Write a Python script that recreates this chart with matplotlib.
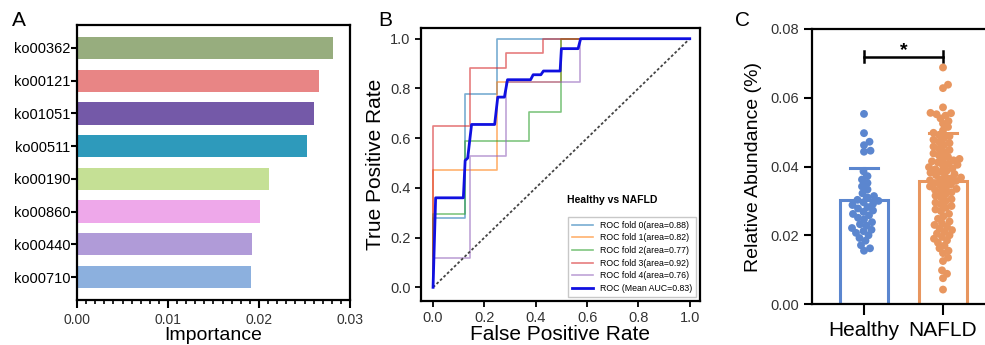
import matplotlib
matplotlib.use('Agg')
import matplotlib.pyplot as plt
import numpy as np
from matplotlib.ticker import MultipleLocator

plt.rcParams['font.family'] = ['Liberation Sans', 'DejaVu Sans']

# ---------------- data ----------------
# Panel A
pathways = ["ko00362", "ko00121", "ko01051", "ko00511", "ko00190", "ko00860", "ko00440", "ko00710"]
importance = [0.0281, 0.0266, 0.0260, 0.0253, 0.0211, 0.0201, 0.0192, 0.0191]
bar_colors = ["#97ad7e", "#e88585", "#7459a8", "#2e9abb", "#c5e095", "#eea8ea", "#b09bd8", "#8cb0de"]

# Panel B (ROC step curves)
fold0_fpr = [0, 0, 0.125, 0.125, 0.25, 0.25, 1.0]
fold0_tpr = [0, 0.278, 0.278, 0.778, 0.778, 1.0, 1.0]
fold1_fpr = [0, 0, 0.25, 0.25, 0.5, 0.5, 1.0]
fold1_tpr = [0, 0.471, 0.471, 0.824, 0.824, 1.0, 1.0]
fold2_fpr = [0, 0, 0.125, 0.125, 0.375, 0.375, 0.5, 0.5, 1.0]
fold2_tpr = [0, 0.294, 0.294, 0.588, 0.588, 0.706, 0.706, 1.0, 1.0]
fold3_fpr = [0, 0, 0.143, 0.143, 0.286, 0.286, 0.429, 0.429, 1.0]
fold3_tpr = [0, 0.647, 0.647, 0.882, 0.882, 0.941, 0.941, 1.0, 1.0]
fold4_fpr = [0, 0, 0.143, 0.143, 0.286, 0.286, 0.571, 0.571, 1.0]
fold4_tpr = [0, 0.118, 0.118, 0.529, 0.529, 0.824, 0.824, 1.0, 1.0]
mean_fpr = [0, 0.01, 0.118, 0.125, 0.135, 0.15, 0.24, 0.252, 0.278, 0.29, 0.38, 0.39, 0.42, 0.43, 0.495, 0.50, 0.565, 0.575, 1.0]
mean_tpr = [0, 0.36, 0.36, 0.51, 0.52, 0.655, 0.655, 0.765, 0.765, 0.835, 0.835, 0.855, 0.855, 0.87, 0.87, 0.96, 0.96, 1.0, 1.0]
fold_labels = ["ROC fold 0(area=0.88)", "ROC fold 1(area=0.82)", "ROC fold 2(area=0.77)",
               "ROC fold 3(area=0.92)", "ROC fold 4(area=0.76)"]
mean_label = "ROC (Mean AUC=0.83)"

# Panel C
groups = ["Healthy", "NAFLD"]
group_means = [0.0303, 0.0358]
group_err_top = [0.0397, 0.0497]
healthy_vals = [0.0553, 0.0497, 0.0472, 0.0462, 0.0446, 0.0443, 0.0386, 0.0372, 0.0362, 0.0352,
                0.0342, 0.0333, 0.0322, 0.0314, 0.0310, 0.0303, 0.0300, 0.0296, 0.0291, 0.0288,
                0.0282, 0.0278, 0.0272, 0.0268, 0.0262, 0.0258, 0.0251, 0.0246, 0.0238, 0.0232,
                0.0228, 0.0221, 0.0216, 0.0212, 0.0207, 0.0200, 0.0192, 0.0184, 0.0171, 0.0162, 0.0155]
nafld_vals = [0.0688, 0.0638, 0.0628, 0.0572, 0.0556, 0.0555, 0.0552, 0.0548, 0.0540, 0.0532,
              0.0525, 0.0515, 0.0505, 0.0498, 0.0492, 0.0488, 0.0482, 0.0478, 0.0472, 0.0468,
              0.0462, 0.0458, 0.0452, 0.0448, 0.0442, 0.0438, 0.0432, 0.0428, 0.0422, 0.0420,
              0.0418, 0.0415, 0.0412, 0.0408, 0.0405, 0.0402, 0.0398, 0.0395, 0.0392, 0.0388,
              0.0385, 0.0382, 0.0378, 0.0375, 0.0372, 0.0368, 0.0365, 0.0362, 0.0360, 0.0358,
              0.0355, 0.0352, 0.0348, 0.0345, 0.0342, 0.0338, 0.0335, 0.0332, 0.0328, 0.0325,
              0.0320, 0.0315, 0.0310, 0.0305, 0.0300, 0.0295, 0.0290, 0.0285, 0.0280, 0.0275,
              0.0270, 0.0262, 0.0255, 0.0248, 0.0240, 0.0235, 0.0230, 0.0225, 0.0220, 0.0215,
              0.0210, 0.0205, 0.0200, 0.0195, 0.0190, 0.0185, 0.0178, 0.0170, 0.0162, 0.0155,
              0.0148, 0.0135, 0.0125, 0.0098, 0.0088, 0.0075, 0.0042]
group_colors = ["#5b86cf", "#e8965f"]

# ---------------- figure ----------------
W, H = 985, 345
fig = plt.figure(figsize=(W / 100, H / 100), dpi=100)


def rect(l, t, r, b):
    return [l / W, 1 - b / H, (r - l) / W, (b - t) / H]


SPW = 1.6

# ---- Panel A ----
axA = fig.add_axes(rect(77, 25, 350, 300))
ypos = np.arange(len(pathways))
axA.barh(ypos, importance, height=0.68, color=bar_colors)
axA.set_ylim(len(pathways) - 0.3, -0.7)
axA.set_xlim(0, 0.03)
axA.set_yticks(ypos)
axA.set_yticklabels(pathways, fontsize=10.5)
axA.xaxis.set_major_locator(MultipleLocator(0.01))
axA.xaxis.set_minor_locator(MultipleLocator(0.001))
axA.xaxis.set_major_formatter(plt.FuncFormatter(lambda v, p: f"{v:.2f}"))
axA.tick_params(axis='x', which='major', length=6, width=1.5, labelsize=10, color='black', labelcolor='#333333')
axA.tick_params(axis='x', which='minor', length=3, width=1.2)
axA.tick_params(axis='y', length=4, width=1.5, pad=1)
axA.set_xlabel("Importance", fontsize=14, labelpad=0)
for s in axA.spines.values():
    s.set_linewidth(SPW)
fig.text(19 / W, 1 - 20 / H, "A", fontsize=15, ha='center', va='center')

# ---- Panel B ----
axB = fig.add_axes(rect(421, 28, 700, 301))
fold_colors = ["tab:blue", "tab:orange", "tab:green", "tab:red", "tab:purple"]
folds = [(fold0_fpr, fold0_tpr), (fold1_fpr, fold1_tpr), (fold2_fpr, fold2_tpr),
         (fold3_fpr, fold3_tpr), (fold4_fpr, fold4_tpr)]
handles = []
for (fx, fy), c, lab in zip(folds, fold_colors, fold_labels):
    h, = axB.plot(fx, fy, color=c, lw=1.2, alpha=0.6, label=lab)
    handles.append(h)
axB.plot([0, 1], [0, 1], linestyle=(0, (1.5, 1.2)), color='#444444', lw=1.3)
hm, = axB.plot(mean_fpr, mean_tpr, color='#1010e0', lw=2.0, label=mean_label)
handles.append(hm)
axB.set_xlim(-0.047, 1.04)
axB.set_ylim(-0.055, 1.043)
axB.set_xticks(np.arange(0, 1.01, 0.2))
axB.set_yticks(np.arange(0, 1.01, 0.2))
axB.xaxis.set_major_formatter(plt.FuncFormatter(lambda v, p: f"{v:.1f}"))
axB.yaxis.set_major_formatter(plt.FuncFormatter(lambda v, p: f"{v:.1f}"))
axB.tick_params(length=4, width=1.3, labelsize=10.5, labelcolor='#333333')
axB.set_xlabel("False Positive Rate", fontsize=15, labelpad=0)
axB.set_ylabel("True Positive Rate", fontsize=15, labelpad=4)
for s in axB.spines.values():
    s.set_linewidth(SPW)
leg = axB.legend(handles=handles, loc='lower right', fontsize=6.3, labelspacing=0.42,
                 handlelength=2.4, handletextpad=0.8, borderpad=0.4, frameon=True,
                 fancybox=False, edgecolor='#bbbbbb', bbox_to_anchor=(1.0, 0.0))
leg.get_frame().set_linewidth(1.0)
fig.text(567 / W, 1 - 200 / H, "Healthy vs NAFLD", fontsize=7.5, fontweight='bold', ha='left', va='center')
fig.text(385 / W, 1 - 20 / H, "B", fontsize=15, ha='center', va='center')

# ---- Panel C ----
pxl, pxr = 812, 985
ppx = 79.0  # pixels per x unit
axC = fig.add_axes(rect(pxl, 29, pxr, 304))
axC.set_xlim(-(864 - pxl) / ppx, (pxr - 864) / ppx)
axC.set_ylim(0, 0.08)
ppy = 275 / 0.08


def swarm(vals, diam):
    vals = np.asarray(vals)
    order = np.argsort(vals)
    placed = []
    offs = np.zeros(len(vals))
    cands = [0.0]
    for k in range(1, 80):
        cands += [k * 0.5, -k * 0.5]
    for i in order:
        y = vals[i] * ppy
        for off in cands:
            ok = True
            for (px, py) in placed:
                if abs(py - y) < diam and (off - px) ** 2 + (y - py) ** 2 < diam ** 2:
                    ok = False
                    break
            if ok:
                placed.append((off, y))
                offs[i] = off
                break
    return offs / ppx


swarm_diams = [6.2, 5.7]
for gi, (vals, col) in enumerate(zip([healthy_vals, nafld_vals], group_colors)):
    axC.bar(gi, group_means[gi], width=0.62, facecolor='white', edgecolor=col, linewidth=2.2, zorder=1)
    xo = swarm(vals, swarm_diams[gi])
    axC.scatter(gi + xo, vals, s=32, color=col, edgecolors='none', zorder=3)
    axC.plot([gi, gi], [group_means[gi], group_err_top[gi]], color=col, lw=2.2, zorder=2)
    axC.plot([gi - 0.18, gi + 0.18], [group_err_top[gi]] * 2, color=col, lw=2.2, zorder=4)

# significance bracket
axC.plot([0, 1], [0.0719, 0.0719], color='black', lw=1.8)
axC.plot([0, 0], [0.0703, 0.0735], color='black', lw=1.8)
axC.plot([1, 1], [0.0703, 0.0735], color='black', lw=1.8)
axC.text(0.5, 0.0738, "*", fontsize=14, fontweight='bold', ha='center', va='center')

axC.set_xticks([0, 1])
axC.set_xticklabels(groups, fontsize=15)
axC.set_yticks(np.arange(0, 0.081, 0.02))
axC.yaxis.set_major_formatter(plt.FuncFormatter(lambda v, p: f"{v:.2f}"))
axC.tick_params(axis='y', length=6, width=1.5, labelsize=10.5, labelcolor='#333333')
axC.tick_params(axis='x', length=8, width=1.5, pad=4)
axC.set_ylabel("Relative Abundance (%)", fontsize=14, labelpad=6)
axC.spines['right'].set_visible(False)
for s in ['left', 'bottom', 'top']:
    axC.spines[s].set_linewidth(SPW)
fig.text(743 / W, 1 - 20 / H, "C", fontsize=15, ha='center', va='center')

fig.savefig("out.png", dpi=100)
